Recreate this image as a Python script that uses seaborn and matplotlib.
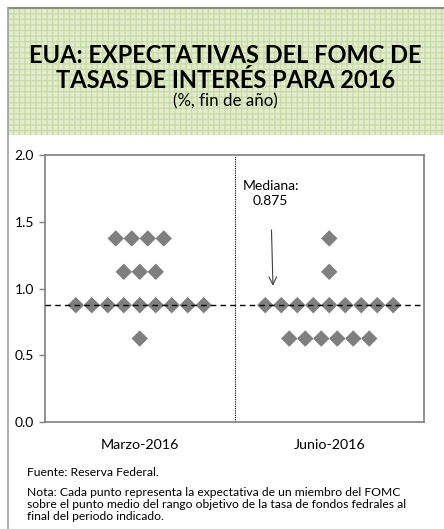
"""FOMC dot plot: expectativas de tasas para 2016 (marzo vs junio)."""
import matplotlib
matplotlib.use("Agg")
import matplotlib.pyplot as plt
from matplotlib.patches import Rectangle
from matplotlib.lines import Line2D
import pandas as pd
import seaborn as sns

sns.set_theme(style="white")
plt.rcParams["font.family"] = ["Lato", "DejaVu Sans"]
plt.rcParams["text.color"] = "black"
plt.rcParams["xtick.color"] = "black"
plt.rcParams["ytick.color"] = "black"
plt.rcParams["hatch.color"] = "#cadca6"

# data: number of FOMC members at each rate level
meetings = ["Marzo-2016", "Junio-2016"]
rates = [0.625, 0.875, 1.125, 1.375]
marzo_counts = [1, 9, 3, 4]
junio_counts = [6, 9, 1, 1]
median_rate = 0.875
yticks = [0.0, 0.5, 1.0, 1.5, 2.0]

STEP = 0.0844  # horizontal spacing between dots in one row

rows = []
for i, counts in enumerate([marzo_counts, junio_counts]):
    for rate, n in zip(rates, counts):
        for k in range(n):
            rows.append({"x": i + (k - (n - 1) / 2) * STEP, "rate": rate})
df = pd.DataFrame(rows)

fig = plt.figure(figsize=(4.44, 5.29), dpi=100)

# header band with plaid texture
hdr = Rectangle((8 / 444, 1 - 135 / 529), 1 - 8 / 444, 127 / 529,
                transform=fig.transFigure, facecolor="#e3ecd0",
                edgecolor="#cadca6", hatch="+++", linewidth=0, zorder=0)
fig.patches.append(hdr)
# outer frame (top and left)
fig.add_artist(Line2D([8 / 444, 1], [1 - 8 / 529, 1 - 8 / 529],
                      transform=fig.transFigure, color="#8c8c7a", lw=1.5))
fig.add_artist(Line2D([8 / 444, 8 / 444], [0, 1 - 8 / 529],
                      transform=fig.transFigure, color="#a0a0a0", lw=1.2))

fig.text(0.508, 1 - 63 / 529, "EUA: EXPECTATIVAS DEL FOMC DE",
         ha="center", va="baseline", fontsize=17, fontweight="bold")
fig.text(0.508, 1 - 88 / 529, "TASAS DE INTERÉS PARA 2016",
         ha="center", va="baseline", fontsize=17, fontweight="bold")
fig.text(0.508, 1 - 106 / 529, "(%, fin de año)",
         ha="center", va="baseline", fontsize=12.2)

ax = fig.add_axes([45 / 444, 1 - 422 / 529, 379 / 444, 267 / 529])
sns.scatterplot(data=df, x="x", y="rate", marker="D", s=70, color="#7f7f7f",
                edgecolor="none", ax=ax, zorder=3)
ax.axhline(median_rate, color="black", ls=(0, (4, 3)), lw=1, zorder=4)
ax.axvline(0.5, color="black", ls=(0, (1, 1)), lw=0.8, zorder=2)

ax.annotate("Mediana:\n0.875", xy=(0.703, 1.02), xytext=(0.69, 1.71),
            ha="center", va="center", fontsize=10, linespacing=1.3,
            arrowprops=dict(arrowstyle="->", color="#404040", lw=0.8,
                            shrinkA=14, shrinkB=0, mutation_scale=14))

ax.set_xlim(-0.5, 1.5)
ax.set_ylim(0, 2.0)
ax.set_yticks(yticks)
ax.set_yticklabels([f"{v:.1f}" for v in yticks])
ax.set_xticks([0, 1])
ax.set_xticklabels(meetings)
ax.set_xlabel("")
ax.set_ylabel("")
ax.tick_params(axis="y", length=4, width=1, color="#808080", pad=4,
               labelsize=10, left=True)
ax.tick_params(axis="x", length=0, pad=12, labelsize=10.3)
for sp in ax.spines.values():
    sp.set_color("#7f7f7f")
    sp.set_linewidth(1.2)

fig.text(27 / 444, 1 - 472 / 529, "Fuente: Reserva Federal.",
         ha="left", va="center", fontsize=8.7)
fig.text(27 / 444, 1 - 487 / 529,
         "Nota: Cada punto representa la expectativa de un miembro del FOMC\n"
         "sobre el punto medio del rango objetivo de la tasa de fondos fedrales al\n"
         "final del periodo indicado.",
         ha="left", va="top", fontsize=8.7, linespacing=1.13)
fig.savefig("out.png", dpi=100)
